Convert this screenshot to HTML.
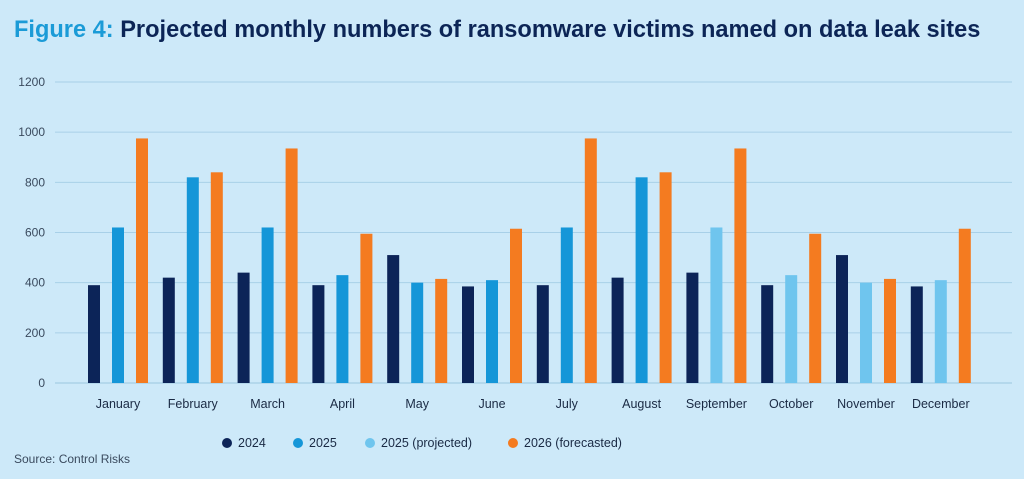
<!DOCTYPE html>
<html><head><meta charset="utf-8"><style>
html,body{margin:0;padding:0;background:#cde9f9;}
svg{display:block;font-family:"Liberation Sans",sans-serif;}
</style></head><body>
<svg id="chart" width="1024" height="479">
<text x="14" y="37" font-size="23.6" font-weight="bold"><tspan fill="#1b9bd7">Figure 4:</tspan><tspan fill="#0c2556"> Projected monthly numbers of ransomware victims named on data leak sites</tspan></text>
<g id="grid"></g><g id="bars"></g><g id="xlabels"></g>
<g id="legend" font-size="12.5" fill="#1a2a44"></g>
<text x="14" y="463" font-size="12" fill="#3a4a5e">Source: Control Risks</text>
</svg>
<script>
const months=["January","February","March","April","May","June","July","August","September","October","November","December"];
const v2024=[390,420,440,390,510,385,390,420,440,390,510,385];
const v2025=[620,820,620,430,400,410,620,820,620,430,400,410];
const projected=[false,false,false,false,false,false,false,false,true,true,true,true];
const v2026=[975,840,935,595,415,615,975,840,935,595,415,615];
const yTicks=[0,200,400,600,800,1000,1200];
const C={a:"#0c2458",b:"#1596d8",p:"#6fc5ee",c:"#f47b20"};
const NS="http://www.w3.org/2000/svg";
const y0=383,yTop=82,yMax=1200;
const y=v=>y0-(v/yMax)*(y0-yTop);
const xc=i=>118+i*74.8;
function mk(t,a,p){const e=document.createElementNS(NS,t);for(const k in a)e.setAttribute(k,a[k]);p.appendChild(e);return e;}
const grid=document.getElementById('grid');
yTicks.forEach(t=>{
 const l=mk('line',{x1:55,x2:1012,y1:y(t),y2:y(t),stroke:t===0?"#9cc6e0":"#a8d0e8","stroke-width":1},grid);
 
 
 const tx=mk('text',{x:45,y:y(t)+4,"text-anchor":"end","font-size":12,fill:"#3a4a5e"},grid);
 tx.textContent=t;
 
 
});
const bars=document.getElementById('bars'),xl=document.getElementById('xlabels');
const w=12;
months.forEach((m,i)=>{
 const cx=xc(i);
 [[v2024[i],C.a,-24,'2024'],[v2025[i],projected[i]?C.p:C.b,0,'2025'],[v2026[i],C.c,24,'2026']].forEach(([v,col,off,s])=>{
  const r=mk('rect',{x:cx+off-w/2,y:y(v),width:w,height:y0-y(v),fill:col},bars);
  
  
 });
 const t=mk('text',{x:cx,y:408,"text-anchor":"middle","font-size":12.5,fill:"#1a2a44"},xl);
 t.textContent=m;
 
 
});
const leg=document.getElementById('legend');
[["2024",C.a,227],["2025",C.b,298],["2025 (projected)",C.p,370],["2026 (forecasted)",C.c,513]].forEach(([n,c,x])=>{
 const g=mk('g',{},leg);
 
 
 mk('circle',{cx:x,cy:443,r:5,fill:c},g);
 const t=mk('text',{x:x+11,y:447},g);t.textContent=n;
});
</script>
</body></html>
